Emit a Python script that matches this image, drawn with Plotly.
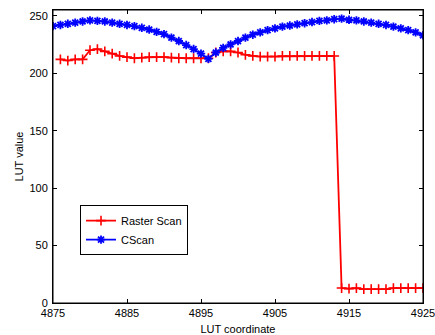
import plotly.graph_objects as go

cscan_x = list(range(4875, 4926))
cscan_y = [241, 242, 243, 244, 245, 246, 245.5, 245, 244, 243,
           242, 241, 239.5, 238, 236, 234, 231, 228, 224.5, 221,
           217, 212.5, 218, 222, 225, 228, 231, 233.5, 235.5, 237.5,
           239, 240.5, 241.5, 242.5, 243.5, 244.5, 245.5, 246, 247, 247.5,
           246.5, 246, 245, 244, 243, 242, 240.5, 239, 237.5, 235.5, 233]

raster_x = list(range(4876, 4926))
raster_y = [212, 211, 212, 212, 220, 221, 219, 217, 215, 214,
            213, 213.5, 214, 214, 214, 213.5, 213, 213, 213, 213,
            213, 218, 219, 219, 218, 216, 215, 214.5, 214.5, 214.5,
            215, 215, 215, 215, 215, 215, 215, 215, 13, 12.5,
            13, 12, 12, 12, 12, 13, 13, 13, 13, 13]

xticks = [4875, 4885, 4895, 4905, 4915, 4925]
yticks = [0, 50, 100, 150, 200, 250]

fig = go.Figure()
fig.add_trace(go.Scatter(
    x=raster_x, y=raster_y, name="Raster Scan", mode="lines+markers",
    line=dict(color="#ff0000", width=1.8),
    marker=dict(symbol="cross-thin-open", size=7, color="#ff0000",
                line=dict(color="#ff0000", width=1.6)),
))
fig.add_trace(go.Scatter(
    x=cscan_x, y=cscan_y, name="CScan", mode="lines+markers",
    line=dict(color="#0000ff", width=1.8),
    marker=dict(symbol="asterisk-open", size=7, color="#0000ff",
                line=dict(color="#0000ff", width=1.8)),
))

axis_common = dict(
    showgrid=False, zeroline=False, showline=True, linecolor="black",
    linewidth=1, mirror="ticks", ticks="inside", ticklen=4,
    tickcolor="black", tickfont=dict(size=11, color="black"),
    ticklabeloverflow="allow",
)

fig.update_layout(
    width=435, height=335,
    margin=dict(l=53, r=12, t=10, b=32, autoexpand=False),
    paper_bgcolor="white", plot_bgcolor="white",
    font=dict(family="Liberation Sans, Arial, sans-serif", size=11, color="black"),
    xaxis=dict(range=[4875, 4925], tickvals=xticks, ticktext=[str(v) for v in xticks],
               title=dict(text="LUT coordinate", standoff=7, font=dict(size=11)),
               **axis_common),
    yaxis=dict(range=[0, 255], tickvals=yticks, ticktext=[str(v) for v in yticks],
               title=dict(text="LUT value", standoff=3, font=dict(size=11)),
               ticklabelstandoff=2, **axis_common),
    legend=dict(x=0.073, y=0.334, xanchor="left", yanchor="top",
                bordercolor="black", borderwidth=1, bgcolor="white",
                font=dict(size=11), tracegroupgap=0, itemwidth=30),
    showlegend=True,
    shapes=[dict(type="rect", xref="paper", yref="paper", x0=0, x1=1, y0=0, y1=1,
                 line=dict(color="black", width=1), layer="above")],
)

fig.write_html(
    "out.html",
    config={"displayModeBar": False},
    post_script="document.body.style.margin='0';document.body.style.overflow='hidden';",
)
